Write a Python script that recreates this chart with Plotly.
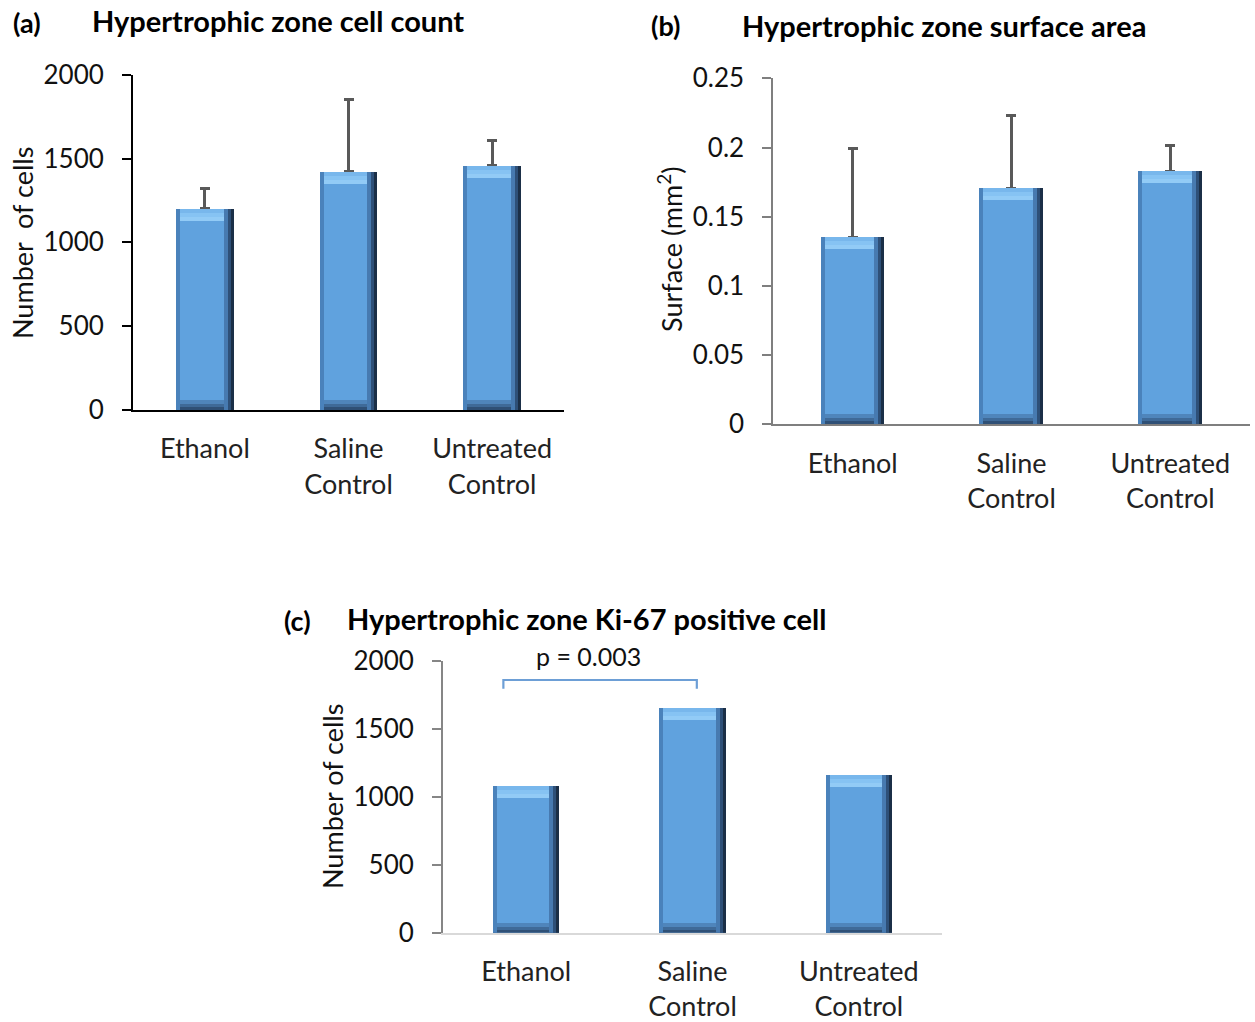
import plotly.graph_objects as go

categories = ["Ethanol", "Saline<br>Control", "Untreated<br>Control"]

cell_count = [1200, 1423, 1460]
cell_count_err = [124, 432, 150]

surface_area = [0.135, 0.1706, 0.183]
surface_area_err = [0.0644, 0.0522, 0.0186]

ki67_cells = [1082, 1653, 1159]

a_ticks = [0, 500, 1000, 1500, 2000]
b_ticks = [0, 0.05, 0.1, 0.15, 0.2, 0.25]
b_ticktext = ["0", "0.05", "0.1", "0.15", "0.2", "0.25"]
c_ticks = [0, 500, 1000, 1500, 2000]

p_label = "p = 0.003"
p_pair = (0, 1)
p_height = 1858

FONT = "Lato, 'Open Sans', sans-serif"
FW, FH = 1255, 1022
W = 0.40
MAIN = "#60a2de"
# bevel bands: (thickness px, colour), listed from the outer edge inwards
TOP_BANDS = [(4, "#78b7ec"), (4, "#86c3f3"), (4, "#92cbf6")]
BOTTOM_BANDS = [(3, "#2f5076"), (3, "#3f6a98"), (4, "#4f85bb")]
RIGHT_BANDS = [(3, "#1b2f47"), (3, "#2e5078"), (4, "#477ab0")]
LEFT_BANDS = [(4, "#4a82bb")]

DOM = {
    "a": dict(x=[133 / FW, 564 / FW], y=[1 - 410 / FH, 1 - 74.7 / FH], r=[0, 2000]),
    "b": dict(x=[773.3 / FW, 1249.7 / FW], y=[1 - 424.3 / FH, 1 - 78.3 / FH], r=[0, 0.25]),
    "c": dict(x=[443 / FW, 942 / FW], y=[1 - 932.7 / FH, 1 - 660.7 / FH], r=[0, 2000]),
}

fig = go.Figure()
xs = [0, 1, 2]


def bar(y, base, width, offset, color, xa, ya, **kw):
    fig.add_trace(go.Bar(x=xs, y=y, base=base, width=width, offset=offset,
                         marker=dict(color=color, line=dict(width=0)), xaxis=xa, yaxis=ya,
                         showlegend=False, hoverinfo="skip", **kw))


def add_bars(vals, key, xa, ya, err=None):
    d = DOM[key]
    ppx = (d["x"][1] - d["x"][0]) * FW / 3.0
    ppy = (d["y"][1] - d["y"][0]) * FH / (d["r"][1] - d["r"][0])
    n = len(vals)
    kw = {}
    if err is not None:
        kw["error_y"] = dict(type="data", symmetric=False, array=err, arrayminus=[0] * n,
                             color="#595959", thickness=3, width=5)
    bar(vals, [0] * n, W, -W / 2, MAIN, xa, ya, **kw)
    # bottom bands
    acc = 0
    for t, c in BOTTOM_BANDS:
        bar([t / ppy] * n, [acc / ppy] * n, W, -W / 2, c, xa, ya)
        acc += t
    # top bands
    acc = 0
    for t, c in TOP_BANDS:
        acc += t
        bar([t / ppy] * n, [v - acc / ppy for v in vals], W, -W / 2, c, xa, ya)
    # left bands
    acc = 0
    for t, c in LEFT_BANDS:
        bar(vals, [0] * n, t / ppx, -W / 2 + acc / ppx, c, xa, ya)
        acc += t
    # right bands
    acc = 0
    for t, c in RIGHT_BANDS:
        acc += t
        bar(vals, [0] * n, t / ppx, W / 2 - acc / ppx, c, xa, ya)


add_bars(cell_count, "a", "x", "y", cell_count_err)
add_bars(surface_area, "b", "x2", "y2", surface_area_err)
add_bars(ki67_cells, "c", "x3", "y3")

# significance bracket in panel (c)
bx0 = p_pair[0] - 0.137
bx1 = p_pair[1] + 0.026
drop = 64
fig.add_trace(go.Scatter(x=[bx0, bx0, bx1, bx1], y=[p_height - drop, p_height, p_height, p_height - drop],
                         mode="lines", line=dict(color="#6d9fd6", width=2.2), xaxis="x3", yaxis="y3",
                         showlegend=False, hoverinfo="skip"))

tickfont = dict(family=FONT, size=26, color="#111111")
catfont = dict(family=FONT, size=27, color="#222222")


def xaxis(key, anchor, linecolor):
    return dict(domain=DOM[key]["x"], anchor=anchor, range=[-0.5, 2.5], tickvals=xs, ticktext=categories,
                showline=True, linecolor=linecolor, linewidth=2, ticks="", showgrid=False,
                zeroline=False, tickfont=catfont, ticklabelstandoff=14, fixedrange=True,
                automargin=False)


def yaxis(key, anchor, tv, tt, linecolor):
    return dict(domain=DOM[key]["y"], anchor=anchor, range=DOM[key]["r"], tickvals=tv, ticktext=tt,
                showline=True, linecolor=linecolor, linewidth=2, ticks="outside", ticklen=9,
                tickcolor=linecolor, tickwidth=2, showgrid=False, zeroline=False,
                tickfont=tickfont, ticklabelstandoff=13, fixedrange=True, automargin=False)


fig.update_layout(
    width=FW, height=FH, margin=dict(l=0, r=0, t=0, b=0, autoexpand=False),
    paper_bgcolor="white", plot_bgcolor="white", barmode="overlay", bargap=0,
    font=dict(family=FONT, color="#111111"),
    xaxis=xaxis("a", "y", "#000000"),
    yaxis=yaxis("a", "x", a_ticks, [str(t) for t in a_ticks], "#000000"),
    xaxis2=xaxis("b", "y2", "#7f7f7f"),
    yaxis2=yaxis("b", "x2", b_ticks, b_ticktext, "#7f7f7f"),
    xaxis3=xaxis("c", "y3", "#d9d9d9"),
    yaxis3=yaxis("c", "x3", c_ticks, [str(t) for t in c_ticks], "#868686"),
)


def px(xp):
    return xp / FW


def py(yp):
    return 1 - yp / FH


ann = []
bold = dict(family=FONT, size=29, color="#000000")
lab = dict(family=FONT, size=27, color="#000000")
ann.append(dict(x=px(11), y=py(22), text="<b>(a)</b>", font=lab, xanchor="left", yanchor="middle"))
ann.append(dict(x=px(90), y=py(20), text="<b>Hypertrophic zone cell count</b>", font=bold, xanchor="left", yanchor="middle"))
ann.append(dict(x=px(649), y=py(26), text="<b>(b)</b>", font=lab, xanchor="left", yanchor="middle"))
ann.append(dict(x=px(740), y=py(26), text="<b>Hypertrophic zone surface area</b>", font=bold, xanchor="left", yanchor="middle"))
ann.append(dict(x=px(282), y=py(620), text="<b>(c)</b>", font=lab, xanchor="left", yanchor="middle"))
ann.append(dict(x=px(345), y=py(618), text="<b>Hypertrophic zone Ki-67 positive cell</b>", font=bold, xanchor="left", yanchor="middle"))

ytfont = dict(family=FONT, size=27, color="#111111")
ann.append(dict(x=px(22), y=py(243), text="Number  of cells", textangle=-90, font=ytfont, xanchor="center", yanchor="middle"))
ann.append(dict(x=px(670), y=py(250), text="Surface (mm<sup>2</sup>)", textangle=-90, font=ytfont, xanchor="center", yanchor="middle"))
ann.append(dict(x=px(332), y=py(796), text="Number of cells", textangle=-90, font=ytfont, xanchor="center", yanchor="middle"))

ann.append(dict(x=px(588), y=py(656), text=p_label,
                font=dict(family=FONT, size=25, color="#111111"), xanchor="center", yanchor="middle"))

for a in ann:
    a.setdefault("xref", "paper")
    a.setdefault("yref", "paper")
    a["showarrow"] = False
fig.update_layout(annotations=ann)

fig.write_html("out.html")
